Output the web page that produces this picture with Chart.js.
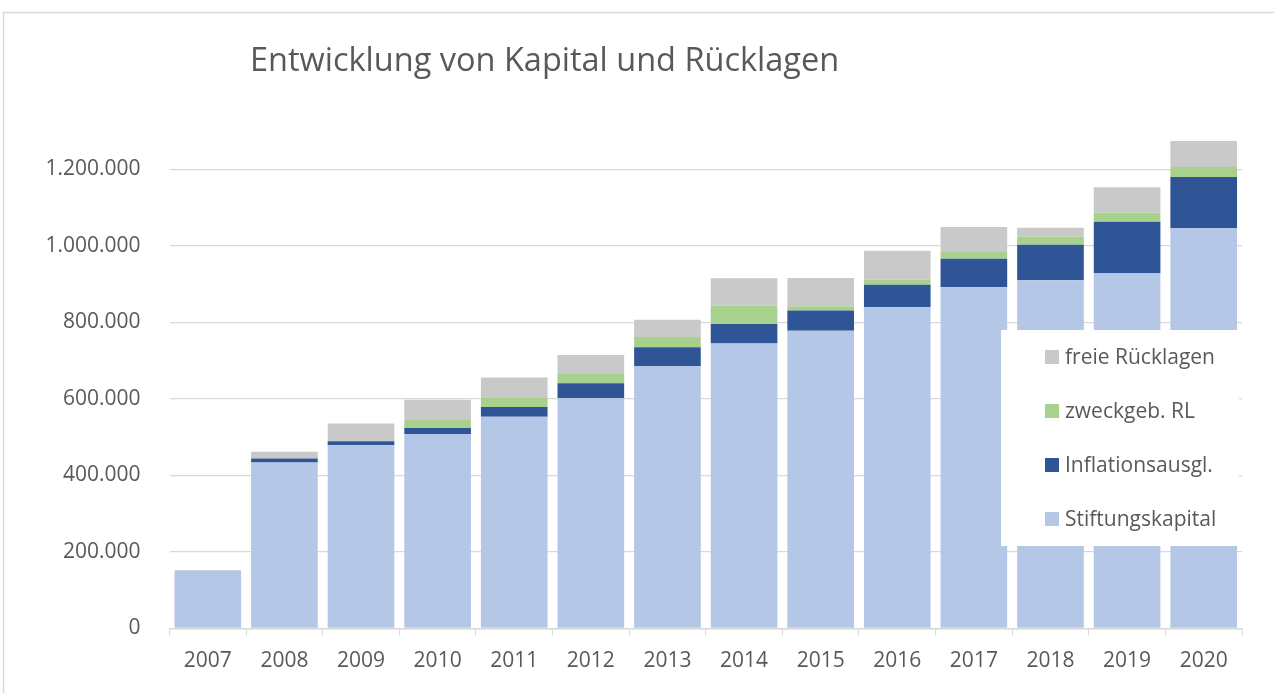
<!DOCTYPE html>
<html>
<head>
<meta charset="utf-8">
<script src="https://cdn.jsdelivr.net/npm/chart.js@4/dist/chart.umd.min.js"></script>
<style>
  html, body { margin: 0; padding: 0; background: #fff; }
  #wrap { position: relative; width: 1274px; height: 693px; }
</style>
</head>
<body>
<div id="wrap"><canvas id="kapitalChart" width="1274" height="693"></canvas></div>
<script>
const years = ['2007', '2008', '2009', '2010', '2011', '2012', '2013', '2014', '2015', '2016', '2017', '2018', '2019', '2020'];
const stiftungskapital = [150000, 434000, 479000, 508000, 553000, 602000, 686000, 745000, 778000, 840000, 892000, 910000, 929000, 1046000];
const inflationsausgl = [1000, 10000, 10000, 16000, 26000, 39000, 49000, 51000, 53000, 58000, 74000, 93000, 134000, 134000];
const zweckgebRL = [0, 0, 0, 21000, 23000, 24000, 27000, 48000, 11000, 13000, 18000, 21000, 24000, 26000];
const freieRL = [0, 18000, 47000, 53000, 54000, 50000, 45000, 71000, 74000, 76000, 65000, 23000, 66000, 68000];
const yTicks = [0, 200000, 400000, 600000, 800000, 1000000, 1200000];

const FONT = "'Open Sans', sans-serif";
const TEXT = '#595959';
const GRID = '#d9d9d9';

function fmt(v) {
  return String(v).replace(/\B(?=(\d{3})+(?!\d))/g, '.');
}

// frame, title and the legend box that sits over the bars
const decor = {
  id: 'decor',
  beforeDraw(chart) {
    const ctx = chart.ctx;
    ctx.save();
    ctx.fillStyle = '#fff';
    ctx.fillRect(0, 0, chart.width, chart.height);
    ctx.strokeStyle = GRID;
    ctx.lineWidth = 1.5;
    ctx.beginPath();
    ctx.moveTo(3.5, chart.height);
    ctx.lineTo(3.5, 12.5);
    ctx.lineTo(chart.width, 12.5);
    ctx.stroke();
    ctx.fillStyle = TEXT;
    ctx.font = '32.5px ' + FONT;
    ctx.textBaseline = 'alphabetic';
    ctx.fillText('Entwicklung von Kapital und Rücklagen', 250, 71);
    ctx.restore();
  },
  afterDatasetsDraw(chart) {
    const ctx = chart.ctx;
    ctx.save();
    ctx.fillStyle = '#fff';
    ctx.fillRect(1001, 330, 238, 216);
    ctx.font = '21px ' + FONT;
    ctx.textBaseline = 'middle';
    const sets = chart.data.datasets.slice().reverse();
    sets.forEach((ds, i) => {
      const y = 357 + i * 54;
      ctx.fillStyle = ds.backgroundColor;
      ctx.fillRect(1045, y - 7, 14, 14);
      ctx.fillStyle = TEXT;
      ctx.fillText(ds.label, 1065, y + 1);
    });
    ctx.restore();
  }
};

new Chart(document.getElementById('kapitalChart'), {
  type: 'bar',
  data: {
    labels: years,
    datasets: [
      { label: 'Stiftungskapital', data: stiftungskapital, backgroundColor: '#b4c7e7' },
      { label: 'Inflationsausgl.', data: inflationsausgl, backgroundColor: '#2f5597' },
      { label: 'zweckgeb. RL', data: zweckgebRL, backgroundColor: '#a9d18e' },
      { label: 'freie Rücklagen', data: freieRL, backgroundColor: '#c9c9c9' }
    ]
  },
  options: {
    responsive: false,
    animation: false,
    layout: { padding: { top: 131, right: 32, left: 0, bottom: 0 } },
    datasets: { bar: { barPercentage: 0.87, categoryPercentage: 1 } },
    plugins: {
      legend: { display: false },
      title: { display: false },
      tooltip: { enabled: false }
    },
    scales: {
      x: {
        stacked: true,
        grid: { display: true, drawOnChartArea: false, drawTicks: true, tickLength: 7, color: GRID, offset: true },
        border: { display: true, color: GRID, width: 1.5 },
        ticks: { color: TEXT, font: { family: FONT, size: 21 }, padding: 13, maxRotation: 0 },
        afterFit(scale) { scale.height = 693 - 628.5; }
      },
      y: {
        stacked: true,
        min: 0,
        max: 1300000,
        grid: { color: GRID, lineWidth: 1.3, drawTicks: false },
        border: { display: false },
        afterBuildTicks(scale) { scale.ticks = yTicks.map(v => ({ value: v })); },
        ticks: {
          color: TEXT,
          font: { family: FONT, size: 21 },
          padding: 29,
          callback: v => fmt(v)
        },
        afterFit(scale) { scale.width = 169.5; }
      }
    }
  },
  plugins: [decor]
});
</script>
</body>
</html>
